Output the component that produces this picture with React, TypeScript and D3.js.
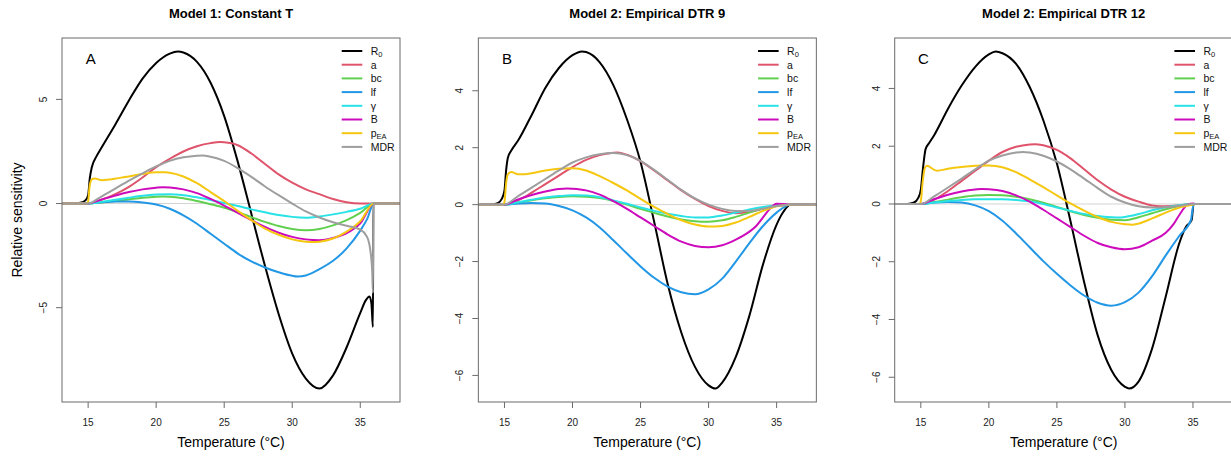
import React, { useEffect, useRef } from 'react';
import * as d3 from 'd3';

// legend / series
const seriesNames = ['R0', 'a', 'bc', 'lf', 'γ', 'B', 'pEA', 'MDR'];
const seriesColors = ['#000000', '#DF536B', '#61D04F', '#2297E6', '#28E2E5', '#CD0BBC', '#F5C710', '#9E9E9E'];
const panelTitles = ['Model 1: Constant T', 'Model 2: Empirical DTR 9', 'Model 2: Empirical DTR 12'];
const panelLetters = ['A', 'B', 'C'];
const tempLimits = [14, 37];

type Pt = [number, number];

// Panel A: constant temperature
const aR0: Pt[] = [[13,0],[14,0],[14.5,0.05],[14.8,0.15],[15,0.4],[15.12,1.2],[15.27,1.74],[15.6,2.25],[16,2.7],[17,3.8],[18,4.95],[19,6.0],[20,6.75],[21,7.2],[21.6,7.3],[22,7.25],[23,6.8],[24,5.8],[25,4.2],[26,2.0],[27,-0.5],[28,-3.0],[29,-5.3],[30,-7.2],[31,-8.4],[32,-8.88],[33,-8.25],[34,-6.9],[35,-5.25],[35.4,-4.65],[35.68,-4.46],[35.82,-4.8],[35.93,-5.93],[35.96,0],[38,0]];
const aA: Pt[] = [[13,0],[15,0],[16,0.18],[17,0.45],[18,0.8],[19,1.25],[20,1.75],[21,2.15],[22,2.5],[23,2.75],[24,2.9],[24.7,2.95],[25,2.94],[26,2.8],[27,2.4],[28,1.9],[29,1.4],[30,1.0],[31,0.68],[32,0.45],[33,0.22],[34,0.06],[35,0.0],[36,0],[38,0]];
const aBc: Pt[] = [[13,0],[15,0],[16,0.05],[17,0.12],[18,0.2],[19,0.28],[20,0.33],[20.5,0.34],[21,0.33],[22,0.25],[23,0.12],[24,-0.03],[25,-0.2],[26,-0.42],[27,-0.65],[28,-0.88],[29,-1.08],[30,-1.22],[31,-1.28],[32,-1.22],[33,-1.05],[34,-0.8],[35,-0.45],[36,0],[38,0]];
const aLf: Pt[] = [[13,0],[15,0],[16,0.06],[17,0.1],[18,0.1],[19,0.05],[20,-0.05],[21,-0.25],[22,-0.57],[23,-0.97],[24,-1.45],[25,-1.93],[26,-2.4],[27,-2.78],[28,-3.07],[29,-3.3],[30,-3.47],[30.4,-3.5],[31,-3.45],[32,-3.15],[33,-2.75],[34,-2.15],[35,-1.3],[35.5,-0.75],[36,0],[38,0]];
const aGamma: Pt[] = [[13,0],[15,0],[16,0.08],[17,0.18],[18,0.28],[19,0.37],[20,0.43],[21,0.45],[22,0.4],[23,0.3],[24,0.17],[25,0.03],[26,-0.12],[27,-0.28],[28,-0.42],[29,-0.55],[30,-0.64],[31,-0.68],[32,-0.62],[33,-0.52],[34,-0.4],[35,-0.25],[36,0],[38,0]];
const aBite: Pt[] = [[13,0],[15,0],[16,0.2],[17,0.38],[18,0.55],[19,0.68],[20,0.76],[20.5,0.78],[21,0.77],[22,0.68],[23,0.5],[24,0.22],[25,-0.1],[26,-0.45],[27,-0.8],[28,-1.12],[29,-1.4],[30,-1.6],[31,-1.72],[32,-1.76],[33,-1.65],[34,-1.42],[35,-0.95],[36,0],[38,0]];
const aPEA: Pt[] = [[13,0],[14.9,0],[15,0.1],[15.12,0.9],[15.3,1.18],[15.5,1.2],[16,1.12],[16.5,1.15],[17,1.2],[18,1.3],[19,1.42],[20,1.5],[20.7,1.5],[21,1.48],[22,1.3],[23,0.98],[24,0.55],[25,0.12],[26,-0.35],[27,-0.8],[28,-1.2],[29,-1.5],[30,-1.72],[31,-1.83],[31.5,-1.85],[32,-1.83],[33,-1.68],[34,-1.35],[35,-0.85],[36,0],[38,0]];
const aMDR: Pt[] = [[13,0],[15,0],[16,0.35],[17,0.72],[18,1.1],[19,1.45],[20,1.78],[21,2.05],[22,2.22],[23,2.3],[23.4,2.31],[24,2.25],[25,2.05],[26,1.7],[27,1.28],[28,0.82],[29,0.4],[30,0.0],[31,-0.38],[32,-0.67],[33,-0.9],[34,-1.07],[35,-1.25],[35.5,-1.6],[35.75,-2.3],[35.88,-3.3],[35.93,-4.3],[35.96,0],[38,0]];

// Panel B: empirical DTR 9
const bR0: Pt[] = [[13,0],[14,0],[14.5,0.05],[14.8,0.2],[15,0.5],[15.12,1.2],[15.25,1.65],[15.5,1.9],[16,2.25],[17,3.15],[18,4.1],[19,4.8],[20,5.25],[20.7,5.38],[21,5.36],[22,5.0],[23,4.2],[24,3.0],[25,1.5],[26,-0.6],[27,-2.8],[28,-4.5],[29,-5.7],[30,-6.35],[30.5,-6.46],[31,-6.25],[32,-5.35],[33,-3.9],[34,-2.1],[35,-0.7],[35.5,-0.25],[36,0],[38,0]];
const bA: Pt[] = [[13,0],[15,0],[16,0.15],[17,0.42],[18,0.72],[19,1.02],[20,1.32],[21,1.57],[22,1.74],[23,1.82],[23.3,1.83],[24,1.75],[25,1.53],[26,1.2],[27,0.85],[28,0.5],[29,0.2],[30,-0.05],[31,-0.22],[32,-0.3],[33,-0.26],[34,-0.15],[35,-0.05],[36,0],[38,0]];
const bBc: Pt[] = [[13,0],[15,0],[16,0.07],[17,0.15],[18,0.22],[19,0.27],[20,0.29],[21,0.28],[22,0.23],[23,0.13],[24,0.0],[25,-0.15],[26,-0.29],[27,-0.42],[28,-0.52],[29,-0.58],[30,-0.6],[31,-0.55],[32,-0.43],[33,-0.28],[34,-0.14],[35,-0.03],[36,0],[38,0]];
const bLf: Pt[] = [[13,0],[15,0],[16,0.04],[17,0.06],[18,0.04],[19,-0.05],[20,-0.2],[21,-0.45],[22,-0.8],[23,-1.25],[24,-1.72],[25,-2.17],[26,-2.57],[27,-2.88],[28,-3.08],[29,-3.15],[30,-2.98],[31,-2.6],[32,-2.0],[33,-1.35],[34,-0.75],[35,-0.28],[36,0],[38,0]];
const bGamma: Pt[] = [[13,0],[15,0],[16,0.08],[17,0.17],[18,0.25],[19,0.3],[20,0.33],[21,0.32],[22,0.26],[23,0.15],[24,0.03],[25,-0.1],[26,-0.22],[27,-0.32],[28,-0.4],[29,-0.45],[30,-0.45],[31,-0.38],[32,-0.28],[33,-0.17],[34,-0.08],[35,-0.02],[36,0],[38,0]];
const bBite: Pt[] = [[13,0],[15,0],[16,0.18],[17,0.34],[18,0.46],[19,0.55],[19.6,0.57],[20,0.56],[21,0.5],[22,0.35],[23,0.12],[24,-0.15],[25,-0.45],[26,-0.75],[27,-1.05],[28,-1.3],[29,-1.45],[30,-1.5],[31,-1.43],[32,-1.23],[33,-0.95],[33.5,-0.75],[34,-0.45],[34.5,-0.15],[35,0.03],[35.5,0.02],[36,0],[38,0]];
const bPEA: Pt[] = [[13,0],[14.9,0],[15,0.1],[15.12,0.75],[15.27,1.08],[15.5,1.15],[16,1.07],[16.5,1.07],[17,1.1],[18,1.2],[19,1.26],[20,1.28],[21,1.2],[22,1.0],[23,0.76],[24,0.5],[25,0.2],[26,-0.08],[27,-0.33],[28,-0.55],[29,-0.7],[30,-0.77],[31,-0.75],[32,-0.63],[33,-0.43],[34,-0.22],[35,-0.06],[36,0],[38,0]];
const bMDR: Pt[] = [[13,0],[15,0],[16,0.3],[17,0.6],[18,0.9],[19,1.2],[20,1.48],[21,1.66],[22,1.77],[23,1.81],[24,1.74],[25,1.54],[26,1.22],[27,0.87],[28,0.52],[29,0.22],[30,0.0],[31,-0.15],[32,-0.22],[33,-0.22],[34,-0.14],[35,-0.05],[36,0],[38,0]];

// Panel C: empirical DTR 12
const cR0: Pt[] = [[13,0],[14,0],[14.5,0.05],[14.8,0.2],[15,0.5],[15.15,1.2],[15.35,1.9],[15.6,2.1],[16,2.4],[17,3.3],[18,4.1],[19,4.75],[20,5.18],[20.5,5.28],[21,5.22],[22,4.85],[23,4.05],[24,2.9],[25,1.4],[26,-0.6],[27,-2.7],[28,-4.55],[29,-5.75],[30,-6.33],[30.3,-6.39],[31,-6.15],[32,-5.0],[33,-3.2],[34,-1.35],[34.5,-0.78],[34.9,-0.56],[35.05,0],[38,0]];
const cA: Pt[] = [[13,0],[15,0],[16,0.15],[17,0.45],[18,0.8],[19,1.15],[20,1.5],[21,1.8],[22,1.98],[23,2.06],[23.4,2.07],[24,2.03],[25,1.87],[26,1.58],[27,1.2],[28,0.82],[29,0.5],[30,0.25],[31,0.08],[32,-0.05],[33,-0.08],[34,-0.05],[35,0],[38,0]];
const cBc: Pt[] = [[13,0],[15,0],[16,0.07],[17,0.15],[18,0.23],[19,0.29],[20,0.31],[21,0.3],[22,0.25],[23,0.16],[24,0.04],[25,-0.1],[26,-0.25],[27,-0.38],[28,-0.48],[29,-0.55],[30,-0.56],[31,-0.46],[32,-0.32],[33,-0.18],[34,-0.07],[35,0],[38,0]];
const cLf: Pt[] = [[13,0],[15,0],[16,0.05],[17,0.07],[18,0.05],[19,-0.05],[20,-0.25],[21,-0.58],[22,-1.02],[23,-1.5],[24,-1.98],[25,-2.42],[26,-2.82],[27,-3.17],[28,-3.42],[29,-3.52],[30,-3.4],[31,-3.07],[32,-2.5],[33,-1.78],[34,-1.1],[34.85,-0.56],[34.95,-0.25],[35.05,0],[38,0]];
const cGamma: Pt[] = [[13,0],[15,0],[16,0.05],[17,0.1],[18,0.14],[19,0.16],[20,0.16],[21,0.16],[22,0.14],[23,0.09],[24,0.0],[25,-0.12],[26,-0.24],[27,-0.35],[28,-0.42],[29,-0.46],[29.5,-0.47],[30,-0.45],[31,-0.35],[32,-0.22],[33,-0.11],[34,-0.04],[35,0],[38,0]];
const cBite: Pt[] = [[13,0],[15,0],[16,0.17],[17,0.32],[18,0.43],[19,0.5],[19.5,0.52],[20,0.51],[21,0.45],[22,0.3],[23,0.08],[24,-0.2],[25,-0.5],[26,-0.8],[27,-1.1],[28,-1.35],[29,-1.5],[30,-1.57],[31,-1.5],[32,-1.27],[33,-1.0],[33.6,-0.68],[34,-0.38],[34.6,-0.02],[35,0.02],[35.2,0],[38,0]];
const cPEA: Pt[] = [[13,0],[14.9,0],[15,0.1],[15.12,0.7],[15.3,1.25],[15.45,1.32],[16,1.18],[16.2,1.15],[17,1.22],[18,1.28],[19,1.32],[20,1.33],[21,1.27],[22,1.1],[23,0.85],[24,0.58],[25,0.3],[26,0.02],[27,-0.23],[28,-0.45],[29,-0.62],[30,-0.7],[30.5,-0.72],[31,-0.68],[32,-0.5],[33,-0.3],[34,-0.12],[35,-0.02],[35.2,0],[38,0]];
const cMDR: Pt[] = [[13,0],[15,0],[16,0.27],[17,0.57],[18,0.88],[19,1.2],[20,1.5],[21,1.68],[22,1.78],[22.5,1.8],[23,1.78],[24,1.67],[25,1.47],[26,1.2],[27,0.88],[28,0.55],[29,0.25],[30,0.05],[31,-0.08],[32,-0.12],[33,-0.11],[34,-0.06],[35,0],[38,0]];

const panels: Pt[][][] = [
    [aR0, aA, aBc, aLf, aGamma, aBite, aPEA, aMDR],
    [bR0, bA, bBc, bLf, bGamma, bBite, bPEA, bMDR],
    [cR0, cA, cBc, cLf, cGamma, cBite, cPEA, cMDR],
];

const FONT = '"Liberation Sans", Arial, Helvetica, sans-serif';

const App = () => {
    const ref = useRef<SVGSVGElement>(null);

    useEffect(() => {
        const svg = d3.select(ref.current);
        svg.selectAll('*').remove();

        const W = 338, H = 364, top = 38, step = 416.35;

        panels.forEach((series, p) => {
            const left = 62 + p * step;
            const pad = (tempLimits[1] - tempLimits[0]) * 0.04;
            const x = d3.scaleLinear().domain([tempLimits[0] - pad, tempLimits[1] + pad]).range([0, W]);
            const all = series.flat().map(d => d[1]);
            const yMin = d3.min(all) as number, yMax = d3.max(all) as number;
            const yPad = (yMax - yMin) * 0.04;
            const y = d3.scaleLinear().domain([yMin - yPad, yMax + yPad]).range([H, 0]);

            const g = svg.append('g').attr('transform', `translate(${left},${top})`);

            g.append('clipPath').attr('id', `clip${p}`)
                .append('rect').attr('width', W).attr('height', H);

            const plot = g.append('g').attr('clip-path', `url(#clip${p})`);

            // zero reference line
            plot.append('line')
                .attr('x1', 0).attr('x2', W)
                .attr('y1', y(0)).attr('y2', y(0))
                .attr('stroke', '#D3D3D3').attr('stroke-width', 1);

            const line = d3.line<Pt>()
                .x(d => x(d[0]))
                .y(d => y(d[1]))
                .curve(d3.curveMonotoneX);

            series.forEach((s, i) => {
                plot.append('path')
                    .attr('d', line(s))
                    .attr('fill', 'none')
                    .attr('stroke', seriesColors[i])
                    .attr('stroke-width', 2)
                    .attr('stroke-linejoin', 'round');
            });

            // frame
            g.append('rect')
                .attr('width', W).attr('height', H)
                .attr('fill', 'none').attr('stroke', '#6b6b6b').attr('stroke-width', 1);

            // x axis
            x.ticks(5).forEach(t => {
                g.append('line')
                    .attr('x1', x(t)).attr('x2', x(t))
                    .attr('y1', H).attr('y2', H + 6)
                    .attr('stroke', '#6b6b6b');
                g.append('text')
                    .attr('x', x(t)).attr('y', H + 23.5)
                    .attr('text-anchor', 'middle')
                    .attr('font-family', FONT).attr('font-size', 10)
                    .attr('fill', '#222')
                    .text(t);
            });

            // y axis
            y.ticks(5).forEach(t => {
                g.append('line')
                    .attr('x1', -6).attr('x2', 0)
                    .attr('y1', y(t)).attr('y2', y(t))
                    .attr('stroke', '#6b6b6b');
                g.append('text')
                    .attr('transform', `translate(-18.5,${y(t)}) rotate(-90)`)
                    .attr('dy', '0.35em')
                    .attr('text-anchor', 'middle')
                    .attr('font-family', FONT).attr('font-size', 10)
                    .attr('fill', '#222')
                    .text(t < 0 ? `\u2212${-t}` : `${t}`);
            });

            // titles
            g.append('text')
                .attr('x', W / 2).attr('y', 17.5 - top)
                .attr('text-anchor', 'middle')
                .attr('font-family', FONT).attr('font-size', 13).attr('font-weight', 'bold')
                .text(panelTitles[p]);

            g.append('text')
                .attr('x', W / 2).attr('y', 447 - top)
                .attr('text-anchor', 'middle')
                .attr('font-family', FONT).attr('font-size', 14)
                .text('Temperature (°C)');

            if (p === 0) {
                g.append('text')
                    .attr('transform', `translate(${21.5 - left},${H / 2}) rotate(-90)`)
                    .attr('text-anchor', 'middle')
                    .attr('font-family', FONT).attr('font-size', 14)
                    .text('Relative sensitivity');
            }

            g.append('text')
                .attr('x', 28.7).attr('y', 26.4)
                .attr('text-anchor', 'middle')
                .attr('font-family', FONT).attr('font-size', 15)
                .text(panelLetters[p]);

            // legend
            const leg = g.append('g').attr('transform', `translate(${W - 58.3},13)`);
            seriesNames.forEach((name, i) => {
                const row = leg.append('g').attr('transform', `translate(0,${i * 13.7})`);
                row.append('line')
                    .attr('x1', 0).attr('x2', 20.6)
                    .attr('stroke', seriesColors[i]).attr('stroke-width', 2);
                const txt = row.append('text')
                    .attr('x', 29).attr('y', 3.8)
                    .attr('font-family', FONT).attr('font-size', 10.5)
                    .attr('fill', '#111');
                if (name === 'R0') {
                    txt.append('tspan').text('R');
                    txt.append('tspan').attr('font-size', 7.5).attr('dy', 2).text('0');
                } else if (name === 'pEA') {
                    txt.append('tspan').text('p');
                    txt.append('tspan').attr('font-size', 7.5).attr('dy', 1.5).text('EA');
                } else {
                    txt.text(name);
                }
            });
        });
    }, []);

    return (
        <svg ref={ref} width={1231} height={458}
            style={{ position: 'absolute', left: 0, top: 0, background: '#fff' }} />
    );
};

export default App;
